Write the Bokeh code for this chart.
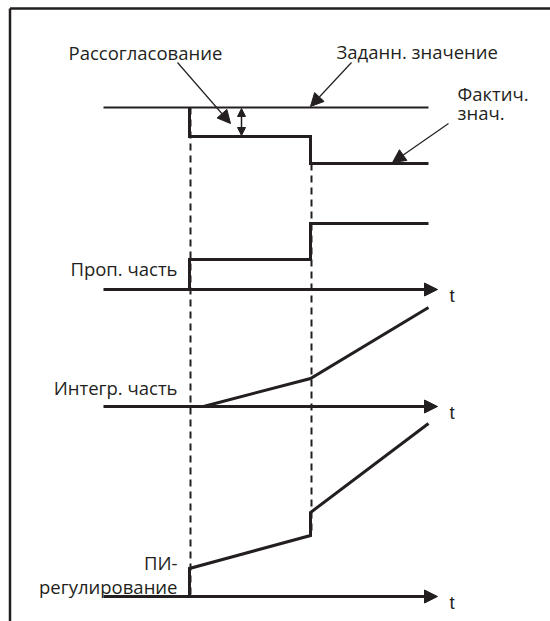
from bokeh.plotting import figure
from bokeh.models import Range1d, Arrow, NormalHead, Label
from bokeh.embed import file_html
from bokeh.resources import INLINE

# ---- data (time in diagram units from the axis origin, signal values upward from each baseline) ----
axis_len = 334
setpoint_t = [0, 325]
setpoint_v = [0, 0]
actual_t = [86, 86, 207, 207, 325]
actual_v = [0, -29, -29, -56, -56]
prop_t = [86, 86, 207, 207, 325]
prop_v = [0, 30, 30, 66, 66]
integ_t = [100, 207, 325]
integ_v = [0, 28, 99]
pi_t = [86, 86, 207, 207, 325]
pi_v = [0, 28, 61, 84, 173]
event_t = [86, 207]

labels_top = ["Рассогласование", "Заданн. значение"]
label_actual = ["Фактич.", "знач."]
label_prop = "Проп. часть"
label_integ = "Интегр. часть"
label_pi = ["ПИ-", "регулирование"]
time_label = "t"

# ---- layout ----
INK = "#231f20"
FONT = "Open Sans"
FS = "18.5px"
W, H = 550, 621
X0 = 103  # page x of axis origin
base_sp, base_p, base_i, base_pi = 107, 289, 406, 596

p = figure(width=W, height=H, output_backend="svg", toolbar_location=None,
           x_range=Range1d(-X0, W - X0), y_range=Range1d(H, 0),
           min_border=0, outline_line_color=None)
p.axis.visible = False
p.grid.visible = False
p.background_fill_color = "white"
p.border_fill_color = "white"

# frame (top and left edges)
p.line([9.5 - X0, W - X0], [8, 8], line_color=INK, line_width=2.5)
p.line([9.5 - X0, 9.5 - X0], [8, H], line_color=INK, line_width=2.5)

# dashed event lines
p.line([event_t[0] + 1, event_t[0] + 1], [base_sp, base_pi], line_color=INK,
       line_width=2, line_dash="7 5")
p.line([event_t[1] + 1, event_t[1] + 1], [base_sp - actual_v[-1], base_pi - pi_v[2]],
       line_color=INK, line_width=2, line_dash="7 5")

# panel 1: setpoint and actual
p.line(setpoint_t, [base_sp - v for v in setpoint_v], line_color=INK, line_width=2)
p.line(actual_t, [base_sp - v for v in actual_v], line_color=INK, line_width=3,
       line_join="miter")

# panels 2-4 signals
p.line(prop_t, [base_p - v for v in prop_v], line_color=INK, line_width=3, line_join="miter")
p.line(integ_t, [base_i - v for v in integ_v], line_color=INK, line_width=3, line_join="miter")
p.line(pi_t, [base_pi - v for v in pi_v], line_color=INK, line_width=3, line_join="miter")

# time axes with arrows
for b in (base_p, base_i, base_pi):
    p.add_layout(Arrow(x_start=0, y_start=b, x_end=axis_len, y_end=b,
                       line_color=INK, line_width=3,
                       end=NormalHead(size=13, fill_color=INK, line_color=INK, line_width=1)))
    p.add_layout(Label(x=axis_len + 12, y=b + 6, text=time_label, text_font="Liberation Sans",
                       text_font_size=FS, text_color=INK, text_baseline="alphabetic"))

# deviation double arrow
p.add_layout(Arrow(x_start=138, y_start=base_sp + 1, x_end=138, y_end=base_sp - actual_v[1] - 1,
                   line_color=INK, line_width=1.5,
                   start=NormalHead(size=8, fill_color=INK, line_color=INK, line_width=1),
                   end=NormalHead(size=8, fill_color=INK, line_color=INK, line_width=1)))

# annotation arrows
def pointer(xs, ys, xe, ye):
    p.add_layout(Arrow(x_start=xs, y_start=ys, x_end=xe, y_end=ye, line_color=INK, line_width=1.2,
                       end=NormalHead(size=13, fill_color=INK, line_color=INK, line_width=1)))

pointer(74, 62, 127, 123)
pointer(248, 62, 207, base_sp - 1)
pointer(345, 123, 289, base_sp - actual_v[-1] - 1)

# texts
def txt(x, y, s, align="left"):
    p.add_layout(Label(x=x, y=y, text=s, text_font=FONT, text_font_size=FS, text_color=INK,
                       text_align=align, text_baseline="alphabetic"))

txt(-35, 52, labels_top[0])
txt(233, 51, labels_top[1])
txt(354, 93, label_actual[0])
txt(354, 112, label_actual[1])
txt(74, 268, label_prop, "right")
txt(74, 387, label_integ, "right")
txt(74, 562, label_pi[0], "right")
txt(74, 586, label_pi[1], "right")

open("out.html", "w").write(file_html(p, INLINE))
